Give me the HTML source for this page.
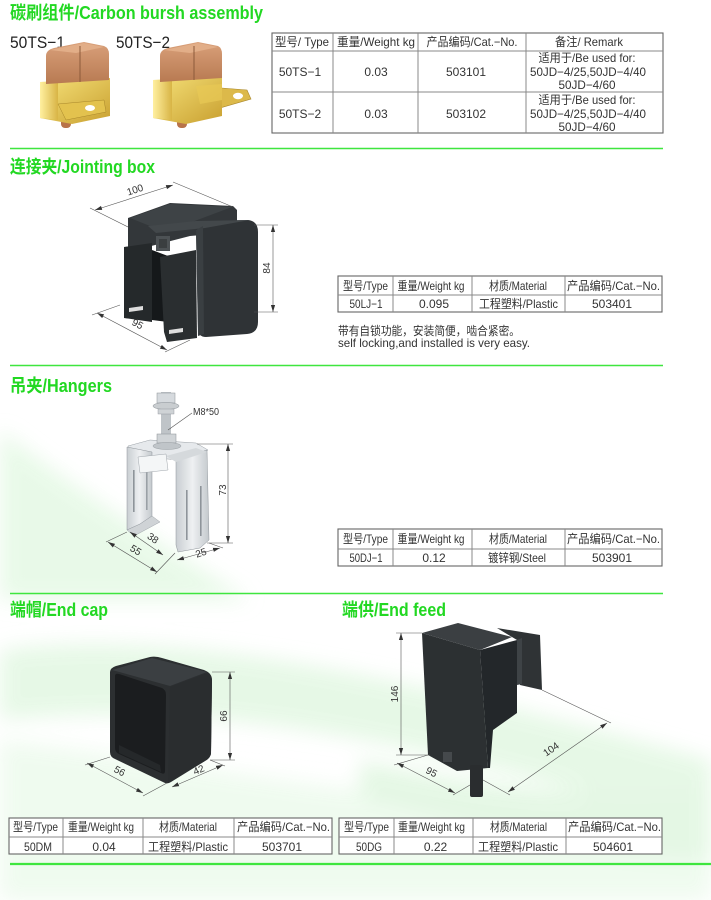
<!DOCTYPE html>
<html><head><meta charset="utf-8">
<style>
html,body{margin:0;padding:0;background:#fff;}
body{width:711px;height:900px;overflow:hidden;}
svg{display:block;}
text{font-family:"Liberation Sans","Noto Sans CJK SC",sans-serif;}
.t{font-size:12px;fill:#333;text-anchor:middle;}
.h{font-size:18px;font-weight:bold;fill:#22d822;}
.d{font-size:10px;fill:#333;text-anchor:middle;}
.tb{fill:#fff;stroke:#666;stroke-width:1.1;}
.tl{stroke:#888;stroke-width:1;}
.dl{stroke:#555;stroke-width:0.6;fill:none;}
.g{stroke:#3fe63f;stroke-width:1.6;}
</style></head>
<body>
<svg width="711" height="900" viewBox="0 0 711 900" xmlns="http://www.w3.org/2000/svg">
<defs>
<marker id="a" markerWidth="8" markerHeight="6" refX="7" refY="3" orient="auto-start-reverse" markerUnits="userSpaceOnUse"><path d="M0,0.9 L7,3 L0,5.1 Z" fill="#333"/></marker>
<filter id="bl" x="-20%" y="-20%" width="140%" height="140%"><feGaussianBlur stdDeviation="10"/></filter>
<linearGradient id="brass" x1="0" y1="0" x2="1" y2="1"><stop offset="0" stop-color="#f6e27a"/><stop offset="1" stop-color="#c9a030"/></linearGradient>
<linearGradient id="brass2" x1="0" y1="0" x2="1" y2="0"><stop offset="0" stop-color="#fff0a0"/><stop offset="1" stop-color="#d8b445"/></linearGradient>
<linearGradient id="cop" x1="0" y1="0" x2="0" y2="1"><stop offset="0" stop-color="#d9a07a"/><stop offset="1" stop-color="#b87a52"/></linearGradient>
<linearGradient id="steel" x1="0" y1="0" x2="1" y2="0"><stop offset="0" stop-color="#c9ced2"/><stop offset="0.5" stop-color="#eef0f2"/><stop offset="1" stop-color="#c4c9cd"/></linearGradient>
</defs>

<!-- background swooshes -->
<g filter="url(#bl)" opacity="0.9">
<path d="M0,430 Q90,500 250,600 L0,600 Z" fill="#e6f9e6"/>
<path d="M0,650 C150,630 350,660 711,760 L711,830 C420,740 220,700 0,720 Z" fill="#e4f8e4"/>
<path d="M0,740 C200,760 420,820 711,800 L711,900 L0,900 Z" fill="#eefbee"/>
<path d="M360,760 C450,780 560,800 711,790 L711,860 C560,860 450,820 360,800 Z" fill="#e2f7e2"/>
</g>

<!-- green separators -->
<line class="g" x1="10" y1="148.5" x2="663" y2="148.5"/>
<line class="g" x1="10" y1="365.5" x2="663" y2="365.5"/>
<line class="g" x1="10" y1="593.5" x2="663" y2="593.5"/>
<line class="g" x1="10" y1="864" x2="711" y2="864" style="stroke-width:2.2"/>

<!-- titles -->
<text class="h" x="10" y="19" textLength="253" lengthAdjust="spacingAndGlyphs">碳刷组件/Carbon bursh assembly</text>
<text class="h" x="10" y="173" textLength="145" lengthAdjust="spacingAndGlyphs">连接夹/Jointing box</text>
<text class="h" x="10" y="392" textLength="102" lengthAdjust="spacingAndGlyphs">吊夹/Hangers</text>
<text class="h" x="10" y="616" textLength="98" lengthAdjust="spacingAndGlyphs">端帽/End cap</text>
<text class="h" x="342" y="616" textLength="104" lengthAdjust="spacingAndGlyphs">端供/End feed</text>

<!-- carbon brush labels -->
<text x="10" y="48" style="font-size:17px;fill:#222" textLength="55" lengthAdjust="spacingAndGlyphs">50TS−1</text>
<text x="116" y="48" style="font-size:17px;fill:#222" textLength="54" lengthAdjust="spacingAndGlyphs">50TS−2</text>

<!-- brush 1 -->
<g>
<rect x="61" y="118" width="10" height="10" rx="4" fill="#b8734a"/>
<path d="M40,82 L110,78 L110,116 L72,124 L40,118 Z" fill="url(#brass)"/>
<path d="M40,82 L58,82 L58,120 L40,118 Z" fill="url(#brass2)"/>
<path d="M58,104 L104,100 L106,112 L66,120 Z" fill="#e3c24e" stroke="#a8862a" stroke-width="0.5"/>
<ellipse cx="90" cy="108" rx="5" ry="3" fill="#fff"/>
<path d="M46,56 Q46,50 54,48 L84,42 L104,46 Q109,48 109,54 L109,80 L46,84 Z" fill="url(#cop)"/>
<path d="M50,50 L84,43 L104,47 L76,53 Z" fill="#e2ae88"/>
<line x1="80" y1="46" x2="80" y2="82" stroke="#8c5a3a" stroke-width="1"/>
</g>
<!-- brush 2 -->
<g>
<rect x="177" y="118" width="10" height="10" rx="4" fill="#b8734a"/>
<path d="M196,86 L247,90 L251,99 L206,112 L196,108 Z" fill="#dcb94a" stroke="#a8862a" stroke-width="0.6"/>
<ellipse cx="238" cy="96" rx="5" ry="3.2" fill="#fff"/>
<path d="M153,80 L222,76 L222,116 L186,124 L153,118 Z" fill="url(#brass)"/>
<path d="M153,80 L172,80 L172,120 L153,118 Z" fill="url(#brass2)"/>
<path d="M196,86 L222,84 L222,100 L200,104 Z" fill="#e8c955" opacity="0.7"/>
<path d="M160,56 Q160,50 168,48 L198,42 L218,46 Q222,48 222,54 L222,78 L160,82 Z" fill="url(#cop)"/>
<path d="M164,50 L198,43 L218,47 L190,53 Z" fill="#e2ae88"/>
<line x1="194" y1="46" x2="194" y2="80" stroke="#8c5a3a" stroke-width="1"/>
</g>

<!-- table 1 -->
<rect class="tb" x="272" y="33" width="391" height="100"/>
<line class="tl" x1="272" y1="51" x2="663" y2="51"/>
<line class="tl" x1="272" y1="92" x2="663" y2="92"/>
<line class="tl" x1="333" y1="33" x2="333" y2="133"/>
<line class="tl" x1="418" y1="33" x2="418" y2="133"/>
<line class="tl" x1="526" y1="33" x2="526" y2="133"/>
<text class="t" x="302" y="46" textLength="54" lengthAdjust="spacingAndGlyphs">型号/ Type</text>
<text class="t" x="376" y="46" textLength="78" lengthAdjust="spacingAndGlyphs">重量/Weight kg</text>
<text class="t" x="472" y="46" textLength="91" lengthAdjust="spacingAndGlyphs">产品编码/Cat.−No.</text>
<text class="t" x="589" y="46" textLength="68" lengthAdjust="spacingAndGlyphs">备注/ Remark</text>
<text class="t" x="300" y="76">50TS−1</text>
<text class="t" x="376" y="76">0.03</text>
<text class="t" x="466" y="76">503101</text>
<text class="t" x="587" y="62" textLength="97" lengthAdjust="spacingAndGlyphs">适用于/Be used for:</text>
<text class="t" x="588" y="76" textLength="116" lengthAdjust="spacingAndGlyphs">50JD−4/25,50JD−4/40</text>
<text class="t" x="587" y="89" textLength="57" lengthAdjust="spacingAndGlyphs">50JD−4/60</text>
<text class="t" x="300" y="118">50TS−2</text>
<text class="t" x="376" y="118">0.03</text>
<text class="t" x="466" y="118">503102</text>
<text class="t" x="587" y="104" textLength="97" lengthAdjust="spacingAndGlyphs">适用于/Be used for:</text>
<text class="t" x="588" y="118" textLength="116" lengthAdjust="spacingAndGlyphs">50JD−4/25,50JD−4/40</text>
<text class="t" x="587" y="131" textLength="57" lengthAdjust="spacingAndGlyphs">50JD−4/60</text>

<!-- jointing box -->
<g>
<path d="M128,218 L170,203 L233,206 L237,210 L237,232 L190,236 L128,252 Z" fill="#33373a"/>
<path d="M130,218 L170,204 L232,207 L192,222 L150,226 Z" fill="#3e4346"/>
<path d="M124,247 L152,243 L152,322 L124,318 Z" fill="#25292b"/>
<path d="M129,308 L143,306 L143,310 L129,312 Z" fill="#ddd"/>
<path d="M152,250 L168,256 L168,322 L152,320 Z" fill="#15181a"/>
<path d="M160,257 L196,250 L197,338 L167,342 L164,332 Z" fill="#2a2e30"/>
<path d="M169,330 L183,328 L183,332 L169,334 Z" fill="#ddd"/>
<path d="M196,230 Q196,222 205,221 L248,220 Q258,221 258,232 L258,322 Q258,333 247,334 L206,337 Q198,337 198,328 Z" fill="#2f3336"/>
<path d="M148,226 L196,221 L250,220 L205,228 L156,233 Z" fill="#43484b"/>
<path d="M196,230 L203,226 L204,334 L198,336 Z" fill="#3a3f42"/>
<rect x="156" y="236" width="14" height="15" fill="#4d5255"/>
<rect x="159" y="239" width="8" height="9" fill="#3a3e40"/>
</g>
<line class="dl" x1="90" y1="208" x2="128" y2="227"/>
<line class="dl" x1="173" y1="182" x2="233" y2="207"/>
<line class="dl" x1="95" y1="210" x2="173" y2="185" marker-start="url(#a)" marker-end="url(#a)"/>
<text class="d" transform="translate(136,193) rotate(-18)">100</text>
<line class="dl" x1="254" y1="225" x2="278" y2="225"/>
<line class="dl" x1="254" y1="312" x2="278" y2="312"/>
<line class="dl" x1="273" y1="225" x2="273" y2="312" marker-start="url(#a)" marker-end="url(#a)"/>
<text class="d" transform="translate(270,268) rotate(-90)">84</text>
<line class="dl" x1="120" y1="305" x2="92" y2="315"/>
<line class="dl" x1="190" y1="340" x2="165" y2="352"/>
<line class="dl" x1="97" y1="313" x2="167" y2="350" marker-start="url(#a)" marker-end="url(#a)"/>
<text class="d" transform="translate(136,327) rotate(28)">95</text>

<!-- table 2 -->
<rect class="tb" x="338" y="276" width="324" height="36"/>
<line class="tl" x1="338" y1="295" x2="662" y2="295"/>
<line class="tl" x1="393" y1="276" x2="393" y2="312"/>
<line class="tl" x1="472" y1="276" x2="472" y2="312"/>
<line class="tl" x1="565" y1="276" x2="565" y2="312"/>
<text class="t" x="365.5" y="290" textLength="45" lengthAdjust="spacingAndGlyphs">型号/Type</text>
<text class="t" x="431" y="290" textLength="67" lengthAdjust="spacingAndGlyphs">重量/Weight kg</text>
<text class="t" x="518" y="290" textLength="58" lengthAdjust="spacingAndGlyphs">材质/Material</text>
<text class="t" x="613.5" y="290" textLength="93" lengthAdjust="spacingAndGlyphs">产品编码/Cat.−No.</text>
<text class="t" x="366" y="308" textLength="33" lengthAdjust="spacingAndGlyphs">50LJ−1</text>
<text class="t" x="434" y="308">0.095</text>
<text class="t" x="518.5" y="308" textLength="79" lengthAdjust="spacingAndGlyphs">工程塑料/Plastic</text>
<text class="t" x="612" y="308">503401</text>
<text x="338" y="335" style="font-size:12px;fill:#333" textLength="182" lengthAdjust="spacingAndGlyphs">带有自锁功能，安装简便，啮合紧密。</text>
<text x="338" y="347" style="font-size:12px;fill:#333" textLength="192" lengthAdjust="spacingAndGlyphs">self locking,and installed is very easy.</text>

<!-- hanger -->
<g>
<path d="M128,446 L150,440 L196,443 L208,450 L180,460 L130,456 Z" fill="#e6e9ec" stroke="#9aa0a6" stroke-width="0.5"/>
<path d="M127,447 L152,452 L152,516 L140,524 L127,530 Z" fill="url(#steel)" stroke="#8e949a" stroke-width="0.5"/>
<path d="M127,530 L140,524 L152,516 L160,522 L134,536 Z" fill="#cfd3d6" stroke="#8e949a" stroke-width="0.4"/>
<rect x="133" y="470" width="1.6" height="42" fill="#8e949a"/>
<rect x="146" y="470" width="1.6" height="40" fill="#9aa0a6"/>
<path d="M176,460 L207,450 L209,540 L200,548 L178,552 L176,545 Z" fill="url(#steel)" stroke="#8e949a" stroke-width="0.5"/>
<rect x="186" y="490" width="1.6" height="50" fill="#8e949a"/>
<rect x="200" y="486" width="1.6" height="50" fill="#8e949a"/>
<path d="M138,457 L166,454 L168,470 L140,473 Z" fill="#f4f6f7" stroke="#a0a6ac" stroke-width="0.5"/>
<path d="M166,456 L196,448 L207,452 L176,462 Z" fill="#d5d9dc"/>
<rect x="161" y="392" width="10" height="54" fill="#bfc4c8"/>
<rect x="157" y="393" width="18" height="10" fill="#d6dade" stroke="#8a9096" stroke-width="0.5"/>
<ellipse cx="166" cy="406" rx="13" ry="3.5" fill="#c9cdd0" stroke="#8a9096" stroke-width="0.5"/>
<rect x="158" y="409" width="16" height="5" fill="#cfd3d6" stroke="#8a9096" stroke-width="0.4"/>
<rect x="157" y="434" width="19" height="9" fill="#d0d4d7" stroke="#8a9096" stroke-width="0.5"/>
<ellipse cx="167" cy="446" rx="14" ry="3.5" fill="#c0c5c9" stroke="#8a9096" stroke-width="0.4"/>
</g>
<line class="dl" x1="168" y1="430" x2="192" y2="413"/>
<text x="193" y="415" style="font-size:10px;fill:#333" textLength="26" lengthAdjust="spacingAndGlyphs">M8*50</text>
<line class="dl" x1="197" y1="444" x2="233" y2="444"/>
<line class="dl" x1="207" y1="543" x2="233" y2="543"/>
<line class="dl" x1="228" y1="444" x2="228" y2="543" marker-start="url(#a)" marker-end="url(#a)"/>
<text class="d" transform="translate(226,490) rotate(-90)">73</text>
<line class="dl" x1="130" y1="532" x2="163" y2="555" marker-start="url(#a)" marker-end="url(#a)"/>
<text class="d" transform="translate(151,541) rotate(35)">38</text>
<line class="dl" x1="127" y1="532" x2="106" y2="542"/>
<line class="dl" x1="108" y1="542" x2="157" y2="572" marker-start="url(#a)" marker-end="url(#a)"/>
<text class="d" transform="translate(134,553) rotate(31)">55</text>
<line class="dl" x1="175" y1="553" x2="155" y2="574"/>
<line class="dl" x1="209" y1="543" x2="223" y2="548"/>
<line class="dl" x1="177" y1="560" x2="220" y2="548" marker-start="url(#a)" marker-end="url(#a)"/>
<text class="d" transform="translate(202,556) rotate(-18)">25</text>

<!-- table 3 -->
<rect class="tb" x="338" y="529" width="324" height="37"/>
<line class="tl" x1="338" y1="549" x2="662" y2="549"/>
<line class="tl" x1="393" y1="529" x2="393" y2="566"/>
<line class="tl" x1="472" y1="529" x2="472" y2="566"/>
<line class="tl" x1="565" y1="529" x2="565" y2="566"/>
<text class="t" x="365.5" y="543" textLength="45" lengthAdjust="spacingAndGlyphs">型号/Type</text>
<text class="t" x="431" y="543" textLength="67" lengthAdjust="spacingAndGlyphs">重量/Weight kg</text>
<text class="t" x="518" y="543" textLength="58" lengthAdjust="spacingAndGlyphs">材质/Material</text>
<text class="t" x="613.5" y="543" textLength="93" lengthAdjust="spacingAndGlyphs">产品编码/Cat.−No.</text>
<text class="t" x="366" y="562" textLength="33" lengthAdjust="spacingAndGlyphs">50DJ−1</text>
<text class="t" x="434" y="562">0.12</text>
<text class="t" x="517" y="562" textLength="58" lengthAdjust="spacingAndGlyphs">镀锌钢/Steel</text>
<text class="t" x="612" y="562">503901</text>

<!-- end cap -->
<g>
<path d="M110,672 Q110,668 116,666 L150,657 Q156,656 162,658 L204,670 Q212,673 212,680 L211,752 Q211,758 205,761 L171,782 Q168,784 165,783 L115,759 Q110,757 110,752 Z" fill="#2c2f31"/>
<path d="M112,670 L152,658 L207,672 L170,686 Z" fill="#3b3f42"/>
<path d="M170,687 L208,673 Q212,676 212,682 L211,754 Q210,758 205,761 L168,783 Z" fill="#2a2d2f"/>
<path d="M115,676 Q115,673 119,674 L162,688 Q166,690 166,695 L165,771 Q165,775 161,773 L119,754 Q115,752 115,748 Z" fill="#1b1d1f"/>
<path d="M119,745 L160,765 L161,772 L119,753 Z" fill="#25282a"/>
</g>
<line class="dl" x1="212" y1="672" x2="235" y2="672"/>
<line class="dl" x1="210" y1="760" x2="235" y2="760"/>
<line class="dl" x1="230" y1="672" x2="230" y2="760" marker-start="url(#a)" marker-end="url(#a)"/>
<text class="d" transform="translate(227,716) rotate(-90)">66</text>
<line class="dl" x1="110" y1="757" x2="85" y2="765"/>
<line class="dl" x1="167" y1="783" x2="143" y2="796"/>
<line class="dl" x1="87" y1="763" x2="143" y2="793" marker-start="url(#a)" marker-end="url(#a)"/>
<text class="d" transform="translate(118,774) rotate(28)">56</text>
<line class="dl" x1="210" y1="760" x2="225" y2="766"/>
<line class="dl" x1="172" y1="787" x2="223" y2="765" marker-start="url(#a)" marker-end="url(#a)"/>
<text class="d" transform="translate(200,773) rotate(-23)">42</text>

<!-- end feed -->
<g>
<path d="M497,628 L540,635 L542,690 L520,685 L517,640 Z" fill="#2f3335"/>
<path d="M517,640 L522,638 L522,684 L517,685 Z" fill="#3e4346"/>
<path d="M422,633 L480,650 L488,768 L457,771 L428,755 Z" fill="#2c3032"/>
<path d="M480,650 L517,640 L517,713 L493,730 L490,768 L488,768 Z" fill="#23272a"/>
<path d="M422,633 L458,623 L512,637 L480,650 Z" fill="#3b3f42"/>
<rect x="443" y="752" width="9" height="10" fill="#45494c"/>
<rect x="470" y="765" width="13" height="32" rx="2" fill="#2a2d2f"/>
</g>
<line class="dl" x1="396" y1="633" x2="422" y2="633"/>
<line class="dl" x1="396" y1="755" x2="430" y2="755"/>
<line class="dl" x1="401" y1="633" x2="401" y2="755" marker-start="url(#a)" marker-end="url(#a)"/>
<text class="d" transform="translate(398,694) rotate(-90)">146</text>
<line class="dl" x1="428" y1="755" x2="394" y2="765"/>
<line class="dl" x1="470" y1="785" x2="453" y2="795"/>
<line class="dl" x1="397" y1="763" x2="455" y2="793" marker-start="url(#a)" marker-end="url(#a)"/>
<text class="d" transform="translate(430,775) rotate(27)">95</text>
<line class="dl" x1="542" y1="690" x2="611" y2="723"/>
<line class="dl" x1="483" y1="780" x2="510" y2="795"/>
<line class="dl" x1="508" y1="792" x2="607" y2="723" marker-start="url(#a)" marker-end="url(#a)"/>
<text class="d" transform="translate(553,752) rotate(-35)">104</text>

<!-- table 4 -->
<rect class="tb" x="9" y="818" width="323" height="36"/>
<line class="tl" x1="9" y1="837" x2="332" y2="837"/>
<line class="tl" x1="63" y1="818" x2="63" y2="854"/>
<line class="tl" x1="143" y1="818" x2="143" y2="854"/>
<line class="tl" x1="234" y1="818" x2="234" y2="854"/>
<text class="t" x="35.5" y="831" textLength="45" lengthAdjust="spacingAndGlyphs">型号/Type</text>
<text class="t" x="101" y="831" textLength="66" lengthAdjust="spacingAndGlyphs">重量/Weight kg</text>
<text class="t" x="188" y="831" textLength="58" lengthAdjust="spacingAndGlyphs">材质/Material</text>
<text class="t" x="283.5" y="831" textLength="93" lengthAdjust="spacingAndGlyphs">产品编码/Cat.−No.</text>
<text class="t" x="38" y="851" textLength="28" lengthAdjust="spacingAndGlyphs">50DM</text>
<text class="t" x="104" y="851">0.04</text>
<text class="t" x="188" y="851" textLength="80" lengthAdjust="spacingAndGlyphs">工程塑料/Plastic</text>
<text class="t" x="282" y="851">503701</text>

<!-- table 5 -->
<rect class="tb" x="339" y="818" width="323" height="36"/>
<line class="tl" x1="339" y1="837" x2="662" y2="837"/>
<line class="tl" x1="394" y1="818" x2="394" y2="854"/>
<line class="tl" x1="473" y1="818" x2="473" y2="854"/>
<line class="tl" x1="566" y1="818" x2="566" y2="854"/>
<text class="t" x="366.5" y="831" textLength="45" lengthAdjust="spacingAndGlyphs">型号/Type</text>
<text class="t" x="431.5" y="831" textLength="67" lengthAdjust="spacingAndGlyphs">重量/Weight kg</text>
<text class="t" x="518.5" y="831" textLength="57" lengthAdjust="spacingAndGlyphs">材质/Material</text>
<text class="t" x="614.5" y="831" textLength="93" lengthAdjust="spacingAndGlyphs">产品编码/Cat.−No.</text>
<text class="t" x="369" y="851" textLength="26" lengthAdjust="spacingAndGlyphs">50DG</text>
<text class="t" x="435.5" y="851">0.22</text>
<text class="t" x="518" y="851" textLength="80" lengthAdjust="spacingAndGlyphs">工程塑料/Plastic</text>
<text class="t" x="613" y="851">504601</text>
</svg>
</body></html>
